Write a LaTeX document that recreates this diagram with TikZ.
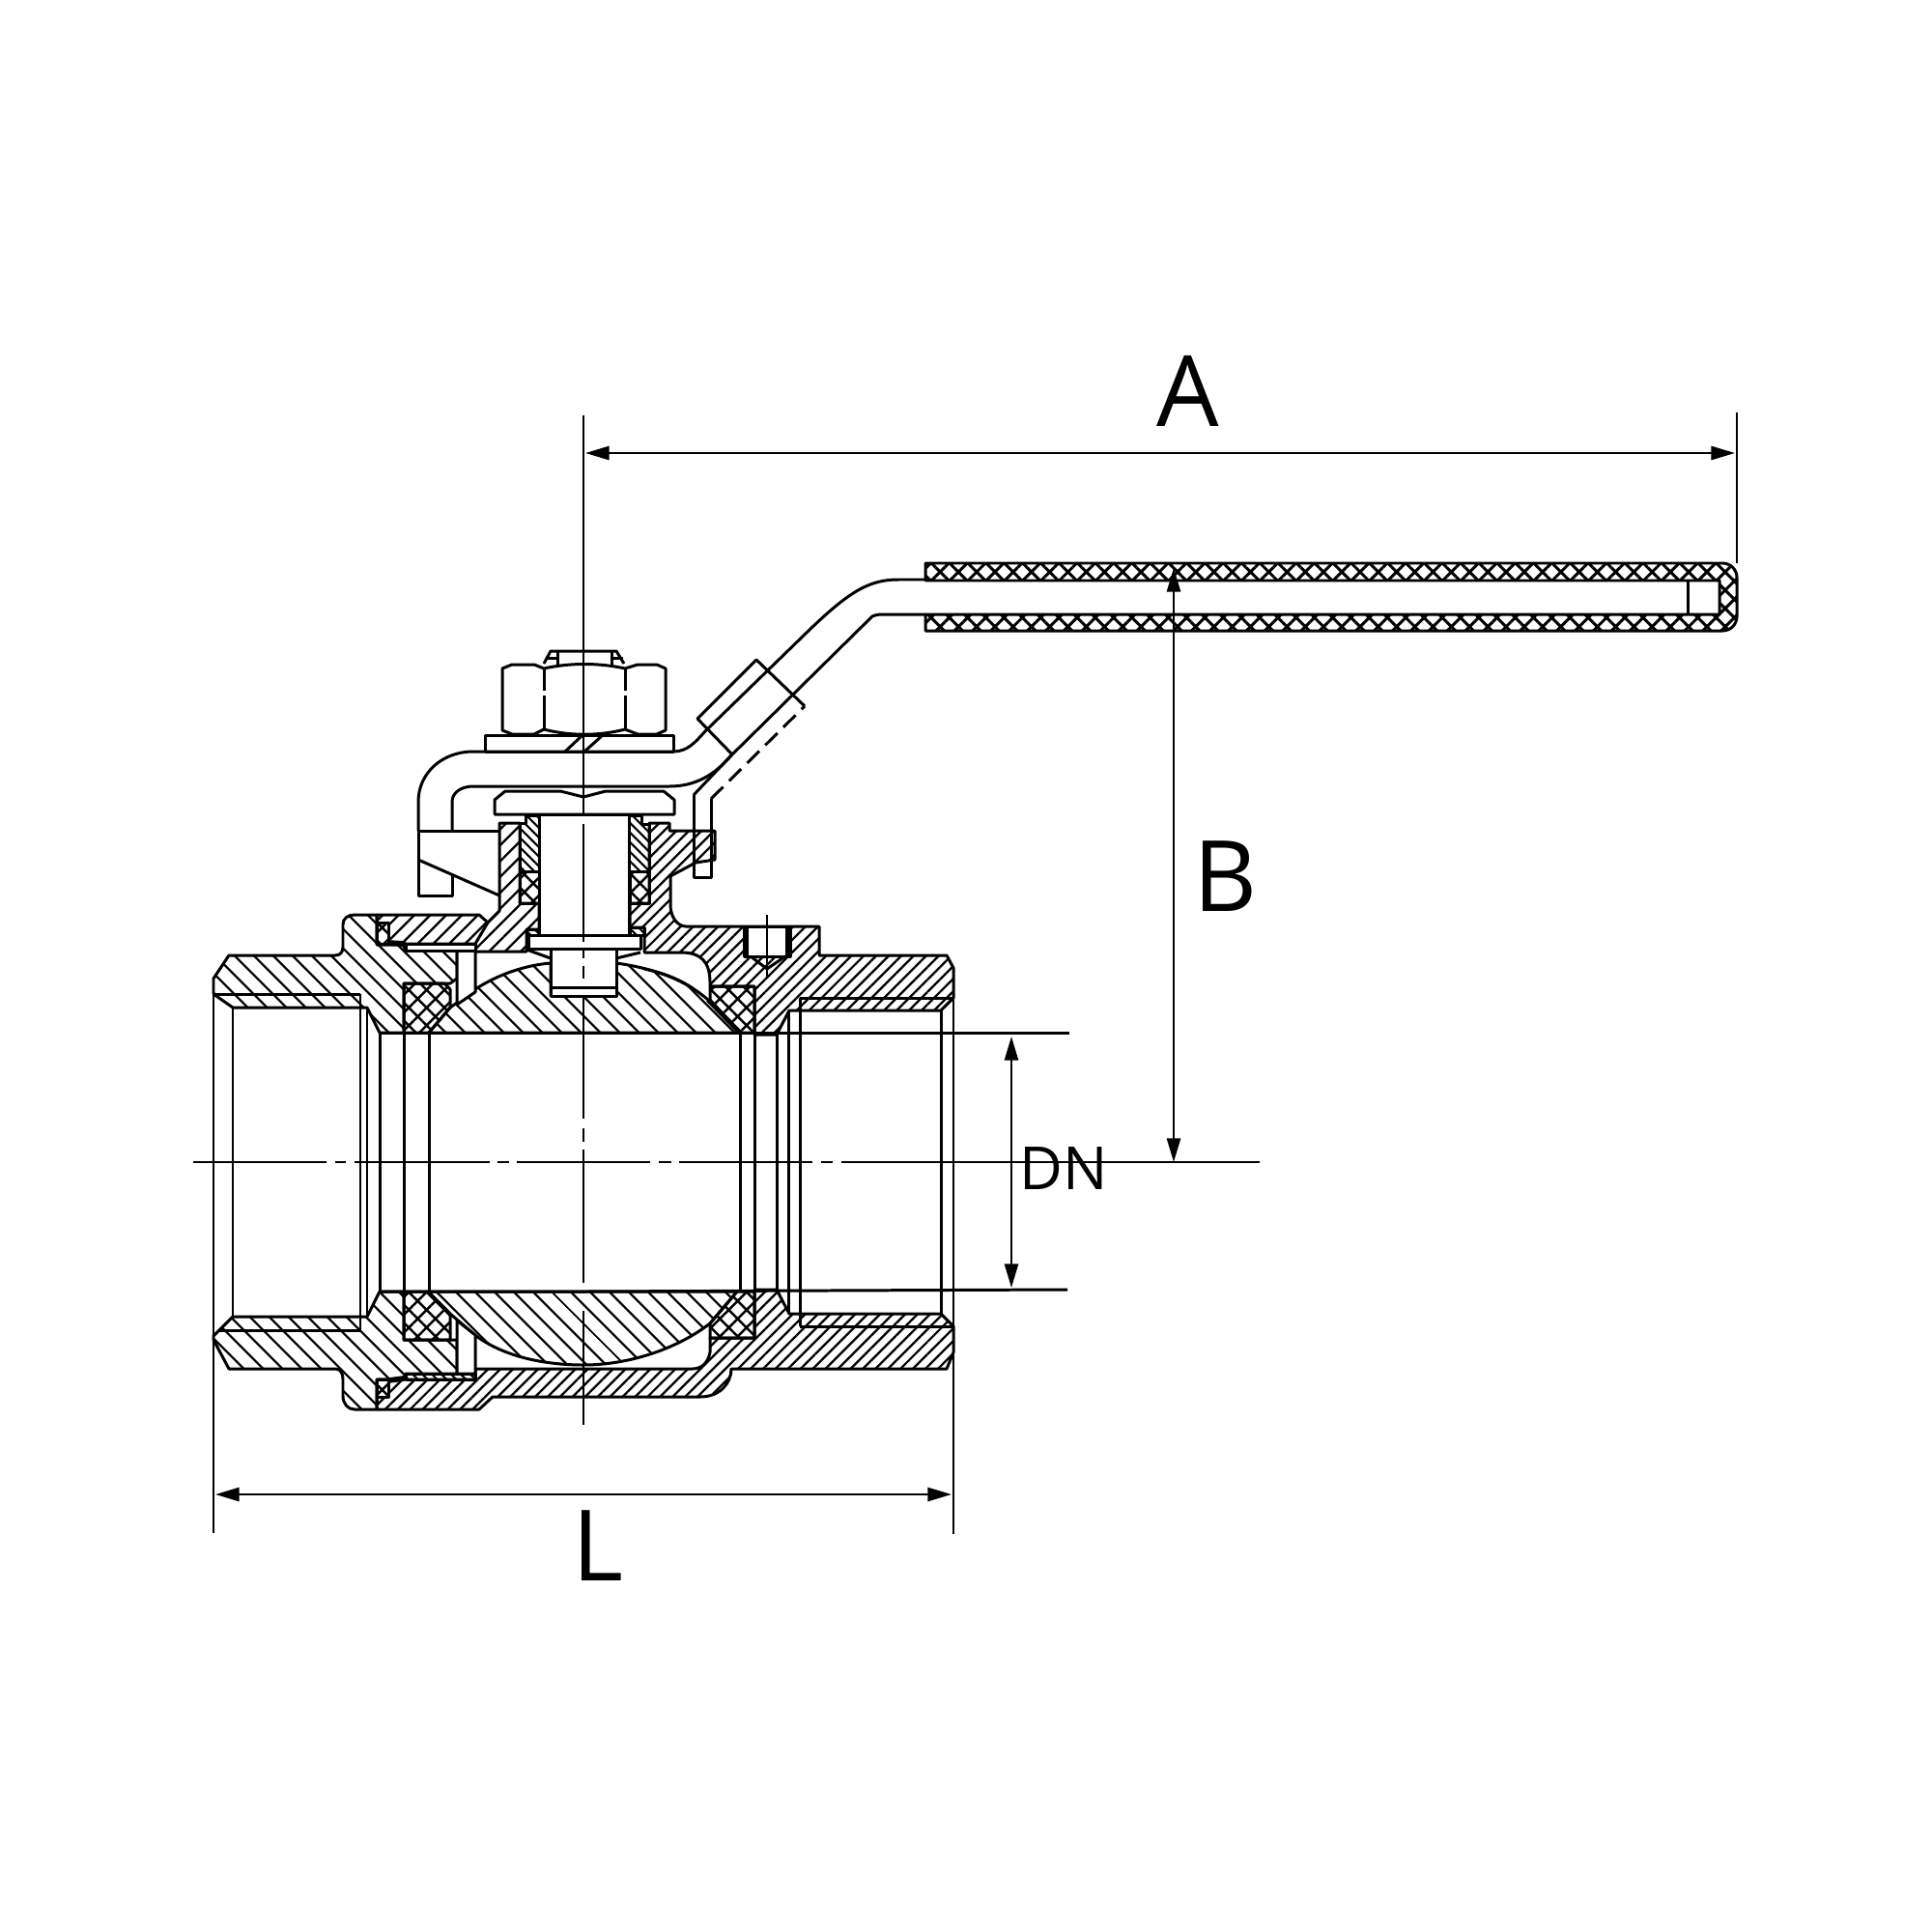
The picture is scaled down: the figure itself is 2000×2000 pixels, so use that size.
\documentclass[tikz,border=0pt]{standalone}
\usepackage{fontspec}
\setmainfont{Open Sans}
\usetikzlibrary{arrows.meta,patterns.meta}
\tikzset{
  outline/.style={line width=0.85pt,line join=round},
  hairline/.style={line width=0.7pt},
  dimline/.style={line width=0.7pt,{Triangle[length=7pt,width=4pt]}-{Triangle[length=7pt,width=4pt]}},
  hatchbig/.style={pattern={Lines[angle=-45,distance=4pt,line width=0.65pt]}},
  hatchfine/.style={pattern={Lines[angle=-45,distance=2pt,line width=0.6pt]}},
  hatchcap/.style={pattern={Lines[angle=45,distance=3.3pt,line width=0.65pt]}},
  hatchbody/.style={pattern={Lines[angle=45,distance=2.6pt,line width=0.65pt]}},
  hatchcross/.style={pattern={Hatch[angle=45,distance=3.7pt,line width=0.7pt]}},
  hatchgrip/.style={pattern={Hatch[angle=45,distance=3.8pt,line width=0.85pt]}},
  biglabel/.style={font=\fontsize{29}{29}\selectfont,inner sep=0pt},
  smalllabel/.style={font=\fontsize{17.5}{18}\selectfont,inner sep=0pt}
}
\begin{document}
\begin{tikzpicture}[x=0.01cm,y=-0.01cm]
  \useasboundingbox (0,0) rectangle (2000,2000);
  \fill[white] (0,0) rectangle (2000,2000);

  % Left end piece
  \draw[outline,hatchbig] (221,1013) -- (237,989) -- (347,989) .. controls (353,989) and (355,985) .. (355,980)
    -- (355,957) .. controls (355,951) and (360,947) .. (367,947) -- (390,947) -- (390,978) -- (417,978) -- (420,984)
    -- (473,984) -- (473,1013) -- (466,1018) -- (418,1018) -- (418,1069) -- (393,1069) -- (380,1043) -- (241,1043) -- (221,1029) -- cycle;
  \draw[outline,hatchbig] (221,1387) -- (237,1417) -- (347,1417) .. controls (353,1417) and (355,1422) .. (355,1428)
    -- (355,1445) .. controls (355,1453) and (360,1459) .. (367,1459) -- (390,1459) -- (390,1428) -- (417,1428) -- (420,1422)
    -- (473,1422) -- (473,1387) -- (418,1387) -- (418,1337) -- (393,1337) -- (380,1363) -- (241,1363) -- (221,1383) -- cycle;

  % Cap and stem housing
  \draw[outline,hatchcap] (390,947) -- (496,947) -- (505,955) -- (517,943) -- (517,852) -- (538,852) -- (538,935) -- (558,935)
    -- (558,962) -- (545,962) -- (545,985) -- (492,985) -- (492,977) -- (390,977) -- cycle;
  \draw[outline] (505,955) -- (492,977);

  % Right body, top and bottom
  \draw[outline,hatchbody] (652,935) -- (672,935) -- (672,852) -- (693,852) -- (693,860) -- (740,860) -- (740,890) -- (720,893)
    -- (694,907) -- (694,937) .. controls (694,950) and (702,959) .. (710,959) -- (770,959) -- (848,959) -- (848,989) -- (980,989)
    -- (987,1002) -- (987,1033) -- (974,1046) -- (817,1046) -- (804,1071) -- (781,1071) -- (781,1021) -- (735,1021)
    -- (735,1017) .. controls (735,995) and (725,986) .. (705,986) -- (667,986) -- (667,960) -- (652,960) -- cycle;
  \draw[outline,hatchbody] (390,1459) -- (496,1459) -- (510,1446) -- (725,1446) .. controls (745,1446) and (757,1432) .. (757,1417)
    -- (980,1417) -- (987,1400) -- (987,1373) -- (974,1360) -- (817,1360) -- (804,1335) -- (781,1335) -- (781,1385) -- (735,1385)
    -- (735,1400) .. controls (733,1410) and (727,1417) .. (717,1417) -- (492,1417) -- (492,1428) -- (390,1428) -- cycle;

  % Ball
  \draw[outline,hatchbig] (444,1069) -- (466,1043) -- (473,1038) .. controls (500,1015) and (535,1000) .. (570,997) -- (570,1031)
    -- (638,1031) -- (638,997) .. controls (680,1003) and (710,1015) .. (733,1035) -- (766,1069) -- cycle;
  \draw[outline,hatchbig] (443,1337) -- (763,1337) -- (735,1370) .. controls (700,1397) and (650,1413) .. (604,1413)
    .. controls (560,1413) and (520,1403) .. (493,1383) -- (466,1360) -- cycle;
  \draw[outline] (667,1003) .. controls (690,1008) and (705,1015) .. (717,1023);
  \draw[line width=1.4pt] (733,1035) -- (766,1069);

  % Seats
  \draw[outline,hatchcross] (418,1018) -- (460,1018) -- (466,1024) -- (466,1043) -- (444,1069) -- (418,1069) -- cycle;
  \draw[outline,hatchcross] (735,1021) -- (781,1021) -- (781,1069) -- (766,1069) -- (735,1035) -- cycle;
  \draw[outline,hatchcross] (418,1337) -- (443,1337) -- (466,1360) -- (466,1387) -- (418,1387) -- cycle;
  \draw[outline,hatchcross] (735,1370) -- (763,1337) -- (781,1337) -- (781,1385) -- (735,1385) -- cycle;

  % Slots and strips
  \draw[outline,fill=white] (473,984) -- (492,984) -- (492,1027) -- (473,1040) -- cycle;
  \draw[outline,fill=white] (473,1367) -- (492,1382) -- (492,1422) -- (473,1422) -- cycle;
  \draw[outline,fill=white] (420,977) rectangle (492,984);
  \draw[outline,hatchfine] (420,1422) rectangle (492,1428);

  % O-rings
  \draw[outline,fill=white] (390,955) rectangle (402,977);
  \draw[outline,hatchcross] (390,955) rectangle (402,977);
  \draw[outline,fill=white] (390,1428) rectangle (402,1446);
  \draw[outline,hatchcross] (390,1428) rectangle (402,1446);
  \draw[line width=1.6pt] (402,976) -- (420,977);
  \draw[line width=1.6pt] (402,1429) -- (418,1427);
  \draw[outline,hatchfine] (652,960) rectangle (667,968);
  \draw[outline,hatchfine] (545,962) rectangle (558,968);

  % Packing
  \draw[outline,hatchfine] (538,852) -- (544,852) -- (544,844) -- (558,844) -- (558,902) -- (538,902) -- cycle;
  \draw[outline,hatchfine] (651,844) -- (664,844) -- (664,853) -- (672,853) -- (672,902) -- (651,902) -- cycle;
  \draw[outline,hatchcross] (538,902) rectangle (558,935);
  \draw[outline,hatchcross] (652,902) rectangle (672,935);

  % Stem
  \draw[outline,fill=white] (558,843) rectangle (651,968);
  \draw[outline,fill=white] (547,968) rectangle (663,982);
  \draw[outline,fill=white] (570,982) rectangle (638,1022);
  \draw[outline,fill=white] (570,1022) rectangle (638,1031);
  \draw[outline] (545,983) -- (570,992);
  \draw[outline] (663,986) -- (638,992);

  % Set screw
  \draw[outline,fill=white] (770,959) rectangle (818,990);
  \fill (770,959) rectangle (775,990);
  \fill (813,959) rectangle (818,990);
  \draw[outline] (777,990) -- (794,1003) -- (813,990);
  \draw[hairline] (794,947) -- (794,1013);

  % Bore lines
  \draw[outline] (393,1069) -- (1107,1069);
  \draw[outline] (393,1337) -- (604,1337) -- (1105,1335);
  \foreach \x/\a/\b in {241/1043/1363,373/1029/1377,380/1043/1363,393/1069/1337,418/1069/1337,444/1069/1337,
      766/1069/1337,781/1069/1337,804/1071/1335,816/1048/1360,828/1033/1373,974/1046/1360} {
    \draw[outline] (\x,\a) -- (\x,\b);
  }
  \draw[outline] (221,1029) -- (373,1029);
  \draw[outline] (227,1377) -- (373,1377);
  \draw[outline] (828,1033) -- (987,1033);
  \draw[outline] (828,1373) -- (987,1373);

  % Lever
  \draw[outline] (433,860) -- (433,830) .. controls (433,800) and (458,778) .. (490,778) -- (697,778)
    .. controls (712,778) and (720,768) .. (730,757) -- (840,650) .. controls (880,612) and (900,600) .. (930,600) -- (958,600);
  \draw[outline] (468,860) -- (468,830) .. controls (468,820) and (478,814) .. (490,814) -- (693,814)
    .. controls (720,814) and (740,802) .. (757,782) -- (903,638) .. controls (907,636) and (912,636) .. (917,636) -- (958,636);
  \draw[outline] (433,860) -- (517,860);
  \draw[outline] (433,860) -- (433,927) -- (468,927) -- (468,905);
  \draw[outline] (433,890) -- (517,927);

  % Collar and stop
  \draw[outline] (757,780) -- (722,744) -- (783,683) -- (833,731);
  \draw[outline] (757,782) -- (718,823);
  \draw[outline] (718,823) -- (718,908) -- (736,908) -- (736,827);
  \draw[outline,dash pattern=on 5pt off 2.5pt] (736,827) -- (833,731);

  % Grip
  \draw[outline,hatchgrip] (958,583) -- (1783,583) .. controls (1792,583) and (1798,590) .. (1798,598) -- (1798,638)
    .. controls (1798,646) and (1792,653) .. (1783,653) -- (958,653) -- (958,636) -- (1780,636) -- (1780,601) -- (958,601) -- cycle;
  \draw[outline] (1747,601) -- (1747,636);

  % Nut and washers
  \draw[outline,fill=white] (520,692) -- (530,688) -- (553,688) -- (563,692) .. controls (590,686) and (620,686) .. (647,692)
    -- (660,688) -- (680,688) -- (689,692) -- (689,756) -- (680,760) -- (660,760) -- (647,755)
    .. controls (620,762) and (590,762) .. (563,755) -- (553,760) -- (530,760) -- (520,756) -- cycle;
  \draw[outline] (563,692) -- (563,715);
  \draw[outline] (563,720) -- (563,755);
  \draw[outline] (647,692) -- (647,715);
  \draw[outline] (647,720) -- (647,755);
  \draw[outline] (563,687) -- (570,674) -- (638,674) -- (646,687);
  \draw[outline] (577,674) -- (577,688);
  \draw[outline] (633,674) -- (633,688);
  \draw[outline] (565,681) -- (577,681);
  \draw[outline] (633,681) -- (645,681);
  \draw[outline] (502,761) rectangle (697,778);
  \draw[outline] (585,778) -- (603,761);
  \draw[outline] (605,778) -- (624,761);
  \draw[outline,fill=white] (512,828) -- (523,819) -- (580,819) -- (604,825) -- (627,819) -- (687,819) -- (698,828)
    -- (698,843) -- (512,843) -- cycle;

  % Centre lines
  \foreach \a/\b in {200/338,347/358,367/507,515/527,535/673,682/695,703/841,850/862,871/1304} {
    \draw[hairline] (\a,1203) -- (\b,1203);
  }
  \foreach \a/\b in {430/843,853/975,983/992,1000/1013,1031/1158,1168/1182,1190/1328,1357/1475} {
    \draw[hairline] (604,\a) -- (604,\b);
  }

  % Extension lines
  \draw[hairline] (1798,427) -- (1798,583);
  \draw[hairline] (221,1029) -- (221,1587);
  \draw[hairline] (987,1002) -- (987,1588);

  % Dimensions
  \coordinate (dimAleft) at (606,469);
  \coordinate (dimAright) at (1796,469);
  \coordinate (dimBtop) at (1215,588);
  \coordinate (dimBbottom) at (1215,1203);
  \coordinate (dimDNtop) at (1047,1073);
  \coordinate (dimDNbottom) at (1047,1333);
  \coordinate (dimLleft) at (223,1547);
  \coordinate (dimLright) at (985,1547);
  \draw[dimline] (dimAleft) -- (dimAright);
  \draw[dimline] (dimBtop) -- (dimBbottom);
  \draw[dimline] (dimDNtop) -- (dimDNbottom);
  \draw[dimline] (dimLleft) -- (dimLright);

  \node[biglabel] (labelA) at (1230,405) {A};
  \node[biglabel] (labelB) at (1269,907) {B};
  \node[biglabel] (labelL) at (619,1600) {L};
  \node[smalllabel] (labelDN) at (1101,1210) {DN};
\end{tikzpicture}
\end{document}
